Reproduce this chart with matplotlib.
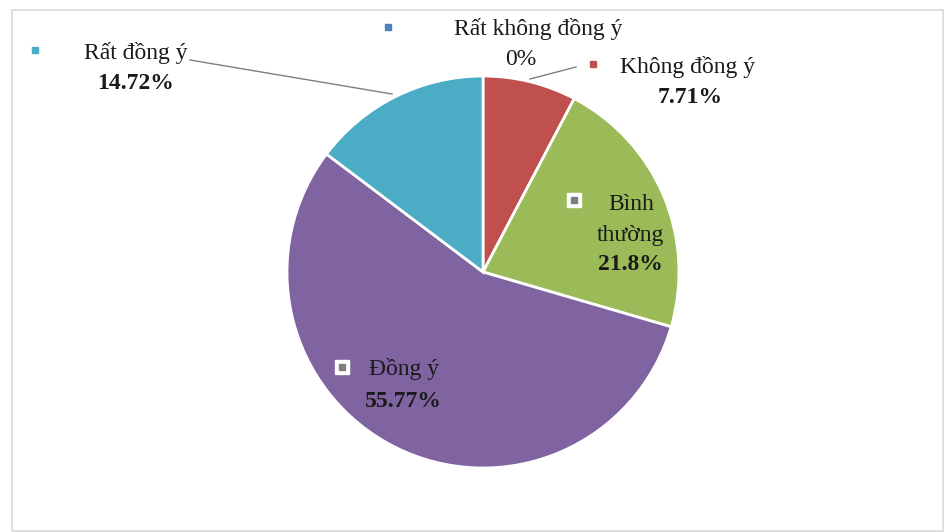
import matplotlib.pyplot as plt
from matplotlib.patches import Rectangle

plt.rcParams['font.family'] = ['Liberation Serif', 'DejaVu Serif']

# Mức độ đồng ý (%)
labels = ['Rất không đồng ý', 'Không đồng ý', 'Bình thường', 'Đồng ý', 'Rất đồng ý']
values = [0, 7.71, 21.8, 55.77, 14.72]
colors = ['#4F81BD', '#C0504D', '#9BBB59', '#8064A2', '#4BACC6']

W, H = 947, 532
fig = plt.figure(figsize=(W / 100, H / 100), dpi=100)
ax = fig.add_axes([0, 0, 1, 1])

# khung viền nhạt
ax.add_patch(Rectangle((12, 1), 931, 521, fill=False, ec='#d9d9d9', lw=1.2))

cx, cy, r = 483, H - 272, 196
ax.pie(values, colors=colors, startangle=90, counterclock=False,
       center=(cx, cy), radius=r, frame=True,
       wedgeprops=dict(edgecolor='white', linewidth=2))
ax.set_xlim(0, W)
ax.set_ylim(0, H)
ax.set_aspect('equal')
ax.axis('off')

fs = 17
txt = '#1a1a1a'


def y(v):
    return H - v


def pct(v):
    return f'{v:g}%'


def label(x0, y0, s, bold=False):
    # hơi dịch xuống cho khớp đường chân chữ
    ax.text(x0, y(y0 + 2.5), s, fontsize=fs, ha='center', va='center', color=txt,
            fontweight='bold' if bold else 'normal')


def key_small(x0, y0, c):
    ax.plot(x0, y(y0), 's', ms=4.5, color=c)


def key_box(x0, y0):
    ax.plot(x0, y(y0), 's', ms=10, mfc='white', mec='white')
    ax.plot(x0, y(y0), 's', ms=4, color='#7f7f7f')


# Rất không đồng ý
key_small(388, 27, colors[0])
label(538, 27, labels[0])
label(521, 57, pct(values[0]))
ax.plot([530, 576], [y(79), y(67)], color='#7f7f7f', lw=1)

# Không đồng ý
key_small(593, 64, colors[1])
label(688, 64, labels[1])
label(690, 95, pct(values[1]), bold=True)

# Bình thường
key_box(574, 200)
label(631, 202, 'Bình')
label(630, 233, 'thường')
label(630, 262, pct(values[2]), bold=True)

# Đồng ý
key_box(342, 367)
label(404, 367, labels[3])
label(403, 399, pct(values[3]), bold=True)

# Rất đồng ý
key_small(35, 50, colors[4])
label(136, 51, labels[4])
label(136, 81, pct(values[4]), bold=True)
ax.plot([190, 392], [y(60), y(94)], color='#7f7f7f', lw=1)

fig.savefig('out.png', dpi=100)
